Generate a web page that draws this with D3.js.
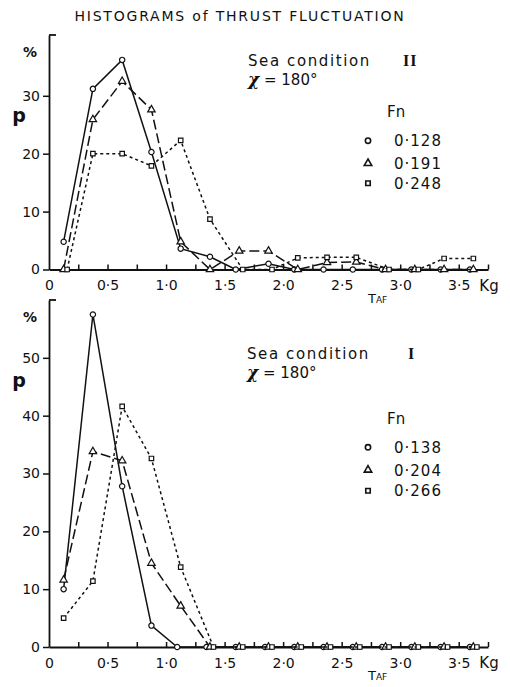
<!DOCTYPE html>
<html>
<head>
<meta charset="utf-8">
<script src="https://cdn.jsdelivr.net/npm/d3@7"></script>
<style>
  html, body { margin: 0; padding: 0; background: #fff; }
  svg { display: block; }
  text { font-family: "DejaVu Sans", sans-serif; fill: #111; }
</style>
</head>
<body>
<svg id="chart" width="510" height="687"></svg>
<script>
// Bin centres of thrust amplitude T_AF (Kg)
const binCenters = [0.125, 0.375, 0.625, 0.875, 1.125, 1.375, 1.625, 1.875,
                    2.125, 2.375, 2.625, 2.875, 3.125, 3.375, 3.625];

// Axis ticks
const xTickValues = [0, 0.5, 1.0, 1.5, 2.0, 2.5, 3.0, 3.5];
const xTickLabels = ["0", "0·5", "1·0", "1·5", "2·0", "2·5", "3·0", "3·5"];
const topYTicks = [0, 10, 20, 30];
const bottomYTicks = [0, 10, 20, 30, 40, 50];

// Sea condition II, chi = 180 deg : probability p (%) per bin
const topFn = ["0·128", "0·191", "0·248"];
const topFn128 = [4.8, 31.2, 36.2, 20.3, 3.6, 2.2, 0, 1.0, 0, 0, 0, 0, 0, 0, 0];
const topFn191 = [0, 25.9, 32.5, 27.6, 4.8, 0, 3.2, 3.2, 0, 1.2, 1.3, 0, 0, 0, 0];
const topFn248 = [0, 20.0, 20.0, 17.9, 22.3, 8.7, 0, 0, 2.0, 2.1, 2.1, 0, 0, 1.9, 1.9];

// Sea condition I, chi = 180 deg
const bottomFn = ["0·138", "0·204", "0·266"];
const bottomFn138 = [10.0, 57.5, 27.8, 3.7, 0, 0, 0, 0, 0, 0, 0, 0, 0, 0, 0];
const bottomFn204 = [11.6, 33.8, 32.2, 14.5, 7.1, 0, 0, 0, 0, 0, 0, 0, 0, 0, 0];
const bottomFn266 = [5.0, 11.4, 41.6, 32.6, 13.8, 0, 0, 0, 0, 0, 0, 0, 0, 0, 0];

const svg = d3.select("#chart");

// Shared horizontal scale
const x = d3.scaleLinear().domain([0, 3.75]).range([49, 488]);
const minorTicks = d3.range(0.25, 3.76, 0.25);

// Line / marker styles for the three Froude numbers
const styles = [
  { symbol: d3.symbolCircle,   size: 22, dash: null,   width: 1.5 },
  { symbol: d3.symbolTriangle, size: 24, dash: "10,4", width: 1.5 },
  { symbol: d3.symbolSquare,   size: 20, dash: "3,3",  width: 1.5 }
];
// small sideways shift so that coincident zero markers stay visible
const zeroShift = [-3.5, 0, 3.5];

// Title
svg.append("text")
  .attr("x", 240).attr("y", 21)
  .attr("text-anchor", "middle")
  .style("font-size", "14px")
  .style("letter-spacing", "1.8px")
  .text("HISTOGRAMS of THRUST FLUCTUATION");

function drawPanel(cfg) {
  const y = d3.scaleLinear().domain([0, cfg.yMax]).range([cfg.y0, cfg.yTop]);
  const g = svg.append("g");

  // y axis
  const yAxis = g.append("g")
    .attr("transform", `translate(${x(0)},0)`)
    .call(d3.axisLeft(y).tickValues(cfg.yTicks).tickSize(6).tickSizeOuter(0).tickPadding(3)
      .tickFormat(d3.format("d")));
  yAxis.select(".domain").attr("stroke", "#111").attr("stroke-width", 1.8);
  yAxis.selectAll(".tick line").attr("stroke", "#111").attr("stroke-width", 1.5);
  yAxis.selectAll(".tick text").style("font-size", "14px").attr("fill", "#111")
    .style("font-family", "DejaVu Sans, sans-serif");
  // small cap tick at the top of the y axis
  g.append("line")
    .attr("x1", x(0)).attr("x2", x(0) + 7)
    .attr("y1", y(cfg.yMax)).attr("y2", y(cfg.yMax))
    .attr("stroke", "#111").attr("stroke-width", 1.8);

  // x axis: inward minor ticks every 0.25
  const xAxis = g.append("g")
    .attr("transform", `translate(0,${y(0)})`)
    .call(d3.axisBottom(x).tickValues(minorTicks).tickSize(-5).tickSizeOuter(0).tickFormat(""));
  xAxis.select(".domain").attr("stroke", "#111").attr("stroke-width", 1.8);
  xAxis.selectAll(".tick line").attr("stroke", "#111").attr("stroke-width", 1.5);

  // x axis labels
  const xLab = g.append("g")
    .attr("transform", `translate(0,${y(0)})`)
    .call(d3.axisBottom(x).tickValues(xTickValues).tickSize(0).tickPadding(11)
      .tickFormat((d, i) => xTickLabels[i]));
  xLab.select(".domain").remove();
  xLab.selectAll(".tick text").style("font-size", "14px").attr("fill", "#111")
    .style("font-family", "DejaVu Sans, sans-serif");

  g.append("text").attr("x", 489).attr("y", y(0) + 21)
    .attr("text-anchor", "middle").style("font-size", "15px").text("Kg");

  const taf = g.append("text").attr("x", 368).attr("y", y(0) + 33);
  taf.append("tspan").style("font-size", "13px").text("T");
  taf.append("tspan").style("font-size", "9px").text("AF");

  // y axis caption
  g.append("text").attr("x", 30).attr("y", cfg.yTop + 22)
    .attr("text-anchor", "middle").style("font-size", "14px").style("font-weight", "bold").text("%");
  g.append("text").attr("x", 19).attr("y", cfg.yTop + 87)
    .attr("text-anchor", "middle").style("font-size", "19px").style("font-weight", "bold").text("p");

  // series
  cfg.series.forEach((vals, si) => {
    const st = styles[si];
    const pts = vals.map((v, i) => [x(binCenters[i]) + (v === 0 ? zeroShift[si] : 0), y(v)]);
    g.append("path")
      .attr("d", d3.line()(pts))
      .attr("fill", "none")
      .attr("stroke", "#111")
      .attr("stroke-width", st.width)
      .attr("stroke-dasharray", st.dash);
    g.selectAll(null).data(pts).join("path")
      .attr("transform", d => `translate(${d[0]},${d[1]})`)
      .attr("d", d3.symbol(st.symbol, st.size)())
      .attr("fill", "#fff")
      .attr("stroke", "#111")
      .attr("stroke-width", 1.2);
  });

  // annotations
  const ann = g.append("g");
  ann.append("text").attr("x", cfg.annX).attr("y", cfg.annY)
    .style("font-size", "15px").style("letter-spacing", "1.6px").text("Sea condition");
  ann.append("text").attr("x", cfg.romanX).attr("y", cfg.annY)
    .style("font-family", "Liberation Serif, serif").style("font-weight", "bold")
    .style("font-size", "16px").style("letter-spacing", "1px").text(cfg.roman);
  const chi = ann.append("text").attr("x", cfg.annX).attr("y", cfg.annY + 19)
    .style("font-size", "15px");
  chi.append("tspan").style("font-family", "DejaVu Serif, serif").style("font-style", "italic")
    .style("font-weight", "bold").style("font-size", "17px").text("χ");
  chi.append("tspan").text(" = 180°");

  ann.append("text").attr("x", 387).attr("y", cfg.fnY)
    .style("font-size", "15px").text("Fn");

  cfg.legendY.forEach((ly, si) => {
    const st = styles[si];
    ann.append("path")
      .attr("transform", `translate(368,${ly})`)
      .attr("d", d3.symbol(st.symbol, st.size)())
      .attr("fill", "#fff").attr("stroke", "#111").attr("stroke-width", 1.6);
    ann.append("text").attr("x", 394).attr("y", ly + 5.5)
      .style("font-size", "15px").style("letter-spacing", "1px").text(cfg.labels[si]);
  });
}

drawPanel({
  yTop: 35, y0: 269.5, yMax: 40.5, yTicks: topYTicks,
  series: [topFn128, topFn191, topFn248], labels: topFn,
  annX: 248, annY: 66, romanX: 403, roman: "II",
  fnY: 117, legendY: [140.7, 163.3, 183.3]
});

drawPanel({
  yTop: 300, y0: 647, yMax: 60, yTicks: bottomYTicks,
  series: [bottomFn138, bottomFn204, bottomFn266], labels: bottomFn,
  annX: 247, annY: 359, romanX: 408, roman: "I",
  fnY: 424, legendY: [447.3, 470, 490.7]
});
</script>
</body>
</html>
